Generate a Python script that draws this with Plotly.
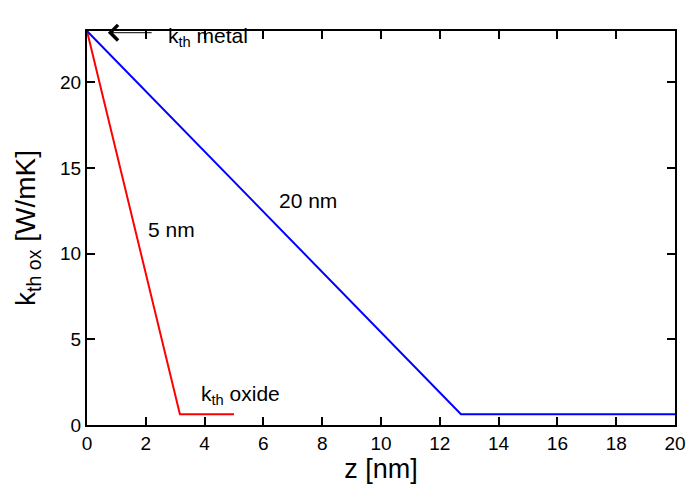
import plotly.graph_objects as go

# data
z_5nm = [0, 3.16, 5]
k_5nm = [23, 0.63, 0.63]
z_20nm = [0, 12.72, 20]
k_20nm = [23, 0.63, 0.63]
x_ticks = [0, 2, 4, 6, 8, 10, 12, 14, 16, 18, 20]
y_ticks = [0, 5, 10, 15, 20]

FONT = "Liberation Sans, Arial, Helvetica, sans-serif"

fig = go.Figure()
fig.add_trace(go.Scatter(x=z_5nm, y=k_5nm, mode="lines",
                         line=dict(color="#ff0000", width=2), showlegend=False))
fig.add_trace(go.Scatter(x=z_20nm, y=k_20nm, mode="lines",
                         line=dict(color="#0000ff", width=2), showlegend=False))

axis_common = dict(showline=True, linecolor="black", linewidth=2, mirror="ticks",
                   ticks="inside", ticklen=8, tickwidth=2, tickcolor="black",
                   showgrid=False, zeroline=False, automargin=False,
                   tickfont=dict(family=FONT, size=19, color="black"))

fig.update_xaxes(range=[0, 20], tickvals=x_ticks, **axis_common,
                 title=dict(text="z [nm]", font=dict(family=FONT, size=27, color="black"), standoff=0))
fig.update_yaxes(range=[0, 23], tickvals=y_ticks, **axis_common,
                 title=dict(text="k<sub>th ox</sub> [W/mK]", font=dict(family=FONT, size=28, color="black"), standoff=16))

ann_font = dict(family=FONT, size=21, color="black")
fig.add_annotation(x=0.71, y=22.9, ax=2.25, ay=22.9, axref="x", ayref="y",
                   showarrow=True, arrowhead=4, arrowsize=3.0, arrowwidth=1.0,
                   arrowcolor="black", text="")
fig.add_annotation(x=2.7, y=22.65, text="k<sub>th</sub> metal", showarrow=False,
                   xanchor="left", font=ann_font)
fig.add_annotation(x=3.8, y=1.75, text="k<sub>th</sub> oxide", showarrow=False,
                   xanchor="left", font=ann_font)
fig.add_annotation(x=2.02, y=11.4, text="5 nm", showarrow=False,
                   xanchor="left", font=ann_font)
fig.add_annotation(x=6.45, y=13.1, text="20 nm", showarrow=False,
                   xanchor="left", font=ann_font)

fig.update_layout(width=689, height=486, margin=dict(l=87, r=14, t=31, b=61),
                  paper_bgcolor="white", plot_bgcolor="white",
                  font=dict(family=FONT))

fig.write_html("out.html")
